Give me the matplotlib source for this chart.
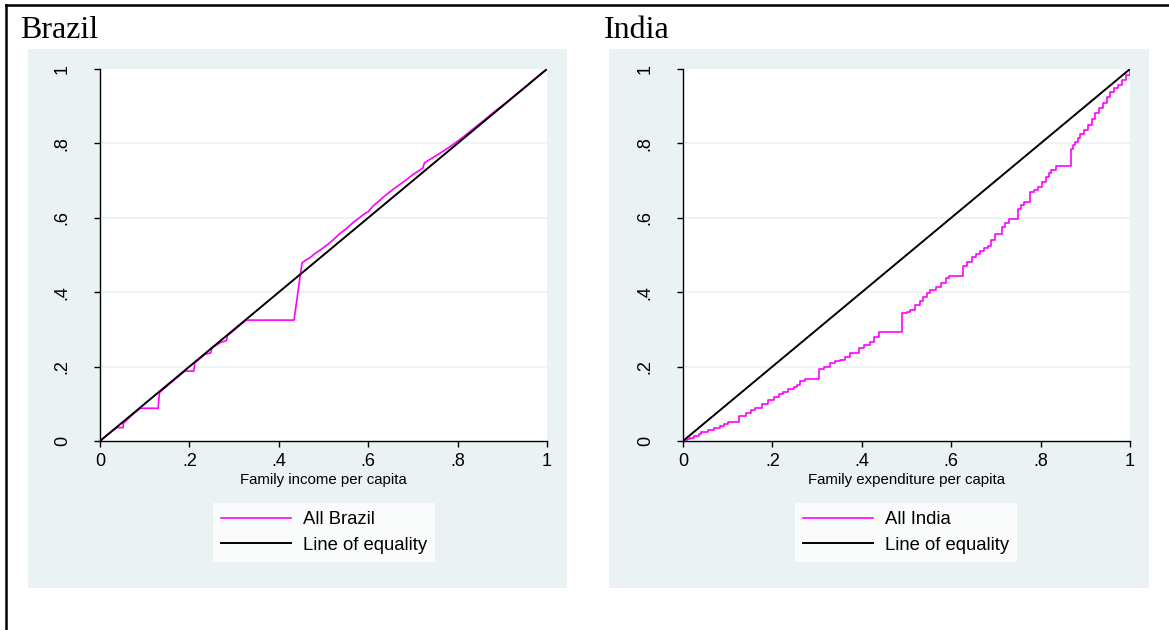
import numpy as np
import matplotlib.pyplot as plt
from matplotlib.patches import Rectangle
from matplotlib.lines import Line2D

# concentration curve vertices (cumulative population share, cumulative share)
brazil_x = [0, 0.02, 0.037, 0.052, 0.052, 0.07, 0.09, 0.13, 0.133, 0.16,
            0.19, 0.21, 0.212, 0.235, 0.248, 0.25, 0.27, 0.283, 0.285, 0.31,
            0.327, 0.434, 0.452, 0.46, 0.47, 0.48, 0.49, 0.5, 0.51, 0.52,
            0.537, 0.55, 0.567, 0.58, 0.593, 0.6, 0.611, 0.626, 0.632, 0.652,
            0.67, 0.686, 0.7, 0.716, 0.722, 0.726, 0.745, 0.761, 0.783, 0.81,
            0.835, 0.86, 0.885, 0.91, 0.935, 0.955, 0.975, 1.0]
brazil_y = [0, 0.02, 0.036, 0.036, 0.047, 0.068, 0.088, 0.088, 0.13, 0.158,
            0.188, 0.188, 0.21, 0.233, 0.237, 0.25, 0.265, 0.27, 0.283, 0.308,
            0.325, 0.325, 0.479, 0.486, 0.493, 0.503, 0.511, 0.52, 0.529, 0.539,
            0.558, 0.57, 0.588, 0.6, 0.612, 0.616, 0.632, 0.647, 0.654, 0.673,
            0.689, 0.703, 0.716, 0.729, 0.733, 0.748, 0.762, 0.774, 0.791, 0.815,
            0.839, 0.863, 0.888, 0.911, 0.936, 0.955, 0.976, 1.0]

india_x = [0, 0.008, 0.015, 0.025, 0.035, 0.041, 0.057, 0.07, 0.082, 0.092,
           0.101, 0.126, 0.142, 0.152, 0.161, 0.176, 0.19, 0.204, 0.214, 0.224,
           0.236, 0.249, 0.254, 0.262, 0.273, 0.305, 0.316, 0.329, 0.34, 0.351,
           0.362, 0.373, 0.393, 0.405, 0.418, 0.428, 0.439, 0.491, 0.5, 0.508,
           0.518, 0.53, 0.538, 0.545, 0.553, 0.565, 0.577, 0.589, 0.594, 0.626,
           0.635, 0.646, 0.655, 0.665, 0.674, 0.683, 0.69, 0.698, 0.713, 0.721,
           0.729, 0.749, 0.756, 0.763, 0.776, 0.785, 0.795, 0.804, 0.813, 0.819,
           0.824, 0.834, 0.867, 0.872, 0.877, 0.883, 0.888, 0.898, 0.907, 0.915,
           0.922, 0.931, 0.94, 0.948, 0.955, 0.965, 0.974, 0.982, 0.99, 1.0]
india_y = [0, 0.005, 0.009, 0.014, 0.02, 0.025, 0.03, 0.036, 0.041, 0.046,
           0.052, 0.068, 0.074, 0.082, 0.09, 0.099, 0.11, 0.119, 0.126, 0.133,
           0.139, 0.145, 0.151, 0.16, 0.168, 0.193, 0.2, 0.209, 0.214, 0.218,
           0.225, 0.236, 0.249, 0.258, 0.267, 0.28, 0.292, 0.343, 0.348, 0.352,
           0.365, 0.377, 0.388, 0.397, 0.406, 0.415, 0.425, 0.437, 0.444, 0.47,
           0.48, 0.495, 0.503, 0.512, 0.518, 0.523, 0.54, 0.556, 0.575, 0.585,
           0.597, 0.625, 0.634, 0.643, 0.67, 0.676, 0.682, 0.695, 0.709, 0.72,
           0.728, 0.739, 0.784, 0.795, 0.805, 0.815, 0.825, 0.837, 0.849, 0.865,
           0.881, 0.895, 0.908, 0.924, 0.939, 0.948, 0.957, 0.97, 0.983, 1.0]

equality = [0, 1]
ticks = [0, 0.2, 0.4, 0.6, 0.8, 1.0]
tick_labels = ['0', '.2', '.4', '.6', '.8', '1']

W, H = 1169, 630
BG = '#eaf2f3'
MAGENTA = '#ff00ff'

plt.rcParams['font.family'] = ['Liberation Sans', 'DejaVu Sans']

fig = plt.figure(figsize=(W / 100, H / 100), dpi=100)


def px_box(x0, y0, x1, y1):
    # pixel box (top-left origin) -> figure fraction rect
    return [x0 / W, (H - y1) / H, (x1 - x0) / W, (y1 - y0) / H]


# outer frame (top and left edges)
fig.add_artist(Line2D([5.5 / W, 1.0], [1 - 4.5 / H, 1 - 4.5 / H],
                      transform=fig.transFigure, color='black', lw=1.8))
fig.add_artist(Line2D([5.5 / W, 5.5 / W], [0, 1 - 4.5 / H],
                      transform=fig.transFigure, color='black', lw=1.8))

panels = [
    dict(title='Brazil', tx=20, bg=(28, 49, 567, 588), ax=(100, 69, 547, 441),
         x=brazil_x, y=brazil_y, steps='default', label='All Brazil',
         xlabel='Family income per capita', legx=324),
    dict(title='India', tx=604, bg=(609, 49, 1149, 588), ax=(683, 69, 1130, 441),
         x=india_x, y=india_y, steps='steps-post', label='All India',
         xlabel='Family expenditure per capita', legx=906),
]

for p in panels:
    x0, y0, x1, y1 = p['bg']
    r = px_box(x0, y0, x1, y1)
    fig.add_artist(Rectangle((r[0], r[1]), r[2], r[3], transform=fig.transFigure,
                             facecolor=BG, edgecolor='none', zorder=0))
    fig.text(p['tx'] / W, 1 - 38 / H, p['title'], family='Liberation Serif',
             fontsize=23, ha='left', va='baseline')

    ax = fig.add_axes(px_box(*p['ax']))
    ax.set_facecolor('white')
    ax.set_xlim(0, 1)
    ax.set_ylim(0, 1)
    ax.set_xticks(ticks)
    ax.set_xticklabels(tick_labels)
    ax.set_yticks(ticks)
    ax.set_yticklabels(tick_labels, rotation=90, va='center')
    ax.tick_params(axis='both', direction='out', length=4, width=1,
                   labelsize=13, color='black')
    ax.tick_params(axis='x', pad=5)
    ax.tick_params(axis='y', pad=17)
    for s in ['top', 'right']:
        ax.spines[s].set_visible(False)
    for s in ['left', 'bottom']:
        ax.spines[s].set_linewidth(1)
        ax.spines[s].set_color('black')
    for v in ticks[1:-1]:
        ax.axhline(v, color=BG, lw=1.3, zorder=1)

    l1, = ax.plot(p['x'], p['y'], drawstyle=p['steps'], color=MAGENTA,
                  lw=1.2, zorder=3, label=p['label'])
    l2, = ax.plot(equality, equality, color='black', lw=1.4, zorder=4,
                  label='Line of equality')
    ax.set_xlabel(p['xlabel'], fontsize=10.8, labelpad=2)

    leg = fig.legend(handles=[l1, l2], loc='upper center',
                     bbox_to_anchor=(p['legx'] / W, 1 - 503 / H),
                     fontsize=13.3, frameon=True, fancybox=False,
                     handlelength=3.8, handletextpad=0.6, borderpad=0.45,
                     labelspacing=0.45, borderaxespad=0)
    leg.get_frame().set_facecolor('white')
    leg.get_frame().set_edgecolor('none')
    leg.get_frame().set_linewidth(0)

fig.savefig('out.png', dpi=100)
